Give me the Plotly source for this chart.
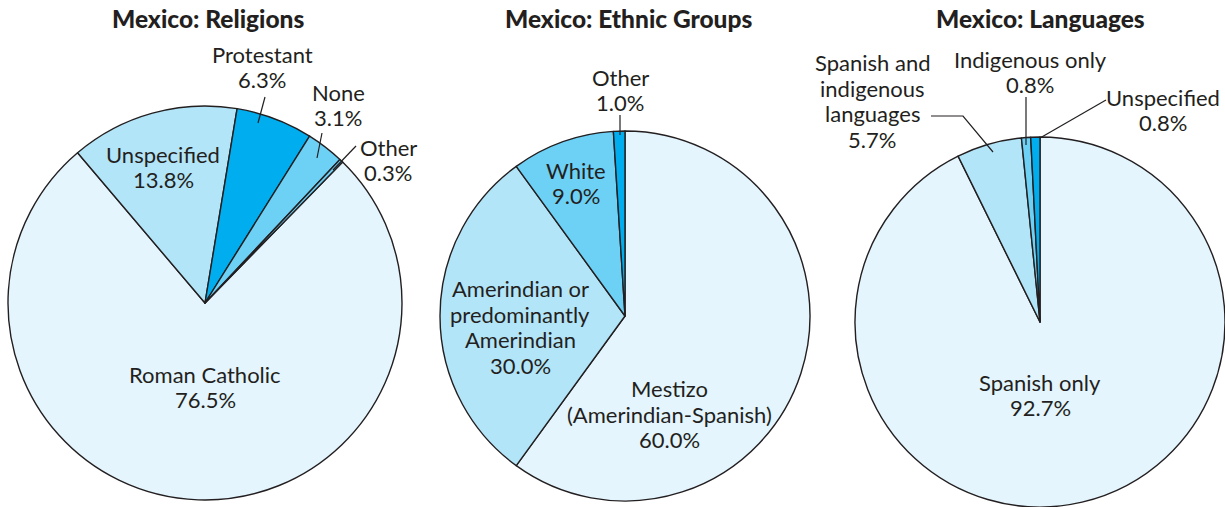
import plotly.graph_objects as go

W, H = 1225, 507

# ---- data ----
rel_labels = ["Roman Catholic", "Unspecified", "Protestant", "None", "Other"]
rel_values = [76.5, 13.8, 6.3, 3.1, 0.3]

eth_labels = ["Mestizo<br>(Amerindian-Spanish)", "Amerindian or<br>predominantly<br>Amerindian", "White", "Other"]
eth_values = [60.0, 30.0, 9.0, 1.0]

lang_labels = ["Spanish only", "Spanish and<br>indigenous<br>languages", "Indigenous only", "Unspecified"]
lang_values = [92.7, 5.7, 0.8, 0.8]

titles = ["Mexico: Religions", "Mexico: Ethnic Groups", "Mexico: Languages"]

# ---- styles ----
C0, C1, C2, C3 = "#E4F5FD", "#B3E5F9", "#6DD0F5", "#00AEEF"
INK = "#231F20"
FONT = "Lato"
LINE_H = 25.8

def px(x, y):
    return x / W, 1 - y / H

def dom(cx, cy, r):
    return dict(x=[(cx - r) / W, (cx + r) / W], y=[1 - (cy + r) / H, 1 - (cy - r) / H])

fig = go.Figure()

pies = [
    (rel_labels, rel_values, [C0, C1, C3, C2, C2], 44.3, (205, 303, 197)),
    (eth_labels, eth_values, [C0, C1, C2, C3], 0, (625, 316, 185)),
    (lang_labels, lang_values, [C0, C1, C2, C3], 0, (1040, 322, 185)),
]
for labels, values, colors, rot, (cx, cy, r) in pies:
    fig.add_trace(go.Pie(
        labels=labels, values=values, sort=False, direction="clockwise",
        rotation=rot, textinfo="none", hoverinfo="label+value",
        marker=dict(colors=colors, line=dict(color=INK, width=1.4)),
        domain=dom(cx, cy, r), showlegend=False,
    ))

annotations = []
def lab(text, x, y):
    lines = text.split("<br>")
    n = len(lines)
    for i, ln in enumerate(lines):
        yy = y + (i - (n - 1) / 2) * LINE_H
        ax, ay = px(x, yy)
        annotations.append(dict(text=ln, x=ax, y=ay, xref="paper", yref="paper",
                                xanchor="center", yanchor="middle", showarrow=False,
                                font=dict(family=FONT, size=22, color=INK)))

# titles
for t, x in zip(titles, [208, 628, 1040]):
    ax, ay = px(x, 19)
    annotations.append(dict(text=t, x=ax, y=ay, xref="paper", yref="paper",
                            xanchor="center", yanchor="middle", showarrow=False,
                            font=dict(family=FONT, size=24.5, color=INK, weight=900)))

def pct(v):
    return f"{v:.1f}%"

# religion labels
rel_pos = [(205, 387), (163, 167), (262, 67), (338, 105), (388, 160)]
for l, v, (x, y) in zip(rel_labels, rel_values, rel_pos):
    lab(f"{l}<br>{pct(v)}", x, y)
# ethnic labels
eth_pos = [(669, 414), (520, 327), (576, 183), (620, 90)]
for l, v, (x, y) in zip(eth_labels, eth_values, eth_pos):
    lab(f"{l}<br>{pct(v)}", x, y)
# language labels
lang_pos = [(1040, 395), (872, 101), (1030, 72), (1163, 110)]
for l, v, (x, y) in zip(lang_labels, lang_values, lang_pos):
    lab(f"{l}<br>{pct(v)}", x, y)

# leader lines
shapes = []
def seg(pts):
    path = "M " + " L ".join(f"{x/W},{1-y/H}" for x, y in pts)
    shapes.append(dict(type="path", path=path, xref="paper", yref="paper",
                       line=dict(color=INK, width=1.2)))

seg([(265, 97), (258, 123)])
seg([(322, 133), (317, 158)])
seg([(356, 146), (333, 170)])
seg([(620, 115), (620, 135)])
seg([(931, 116), (963, 116), (993, 152)])
seg([(1026, 97), (1026, 145)])
seg([(1106, 100), (1040, 138)])

fig.update_layout(
    width=W, height=H, margin=dict(l=0, r=0, t=0, b=0),
    paper_bgcolor="white", plot_bgcolor="white",
    annotations=annotations, shapes=shapes,
)

fig.write_html("out.html")
